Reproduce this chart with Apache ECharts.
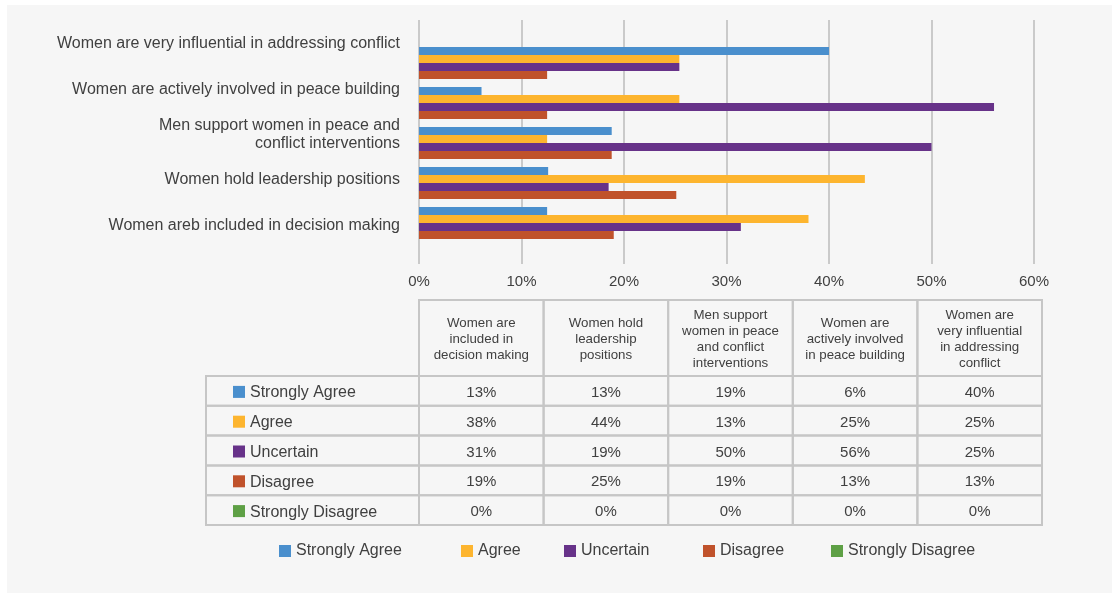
<!DOCTYPE html>
<html>
<head>
<meta charset="utf-8">
<script src="https://cdn.jsdelivr.net/npm/echarts@6/dist/echarts.min.js"></script>
<style>
  html, body { margin: 0; padding: 0; background: #ffffff; }
  #panel { position: absolute; left: 7px; top: 5px; width: 1105px; height: 588px; background: #f6f6f6; }
  #chart { position: absolute; left: 0; top: 0; width: 1112px; height: 593px; }
</style>
</head>
<body>
<div id="panel"></div>
<div id="chart"></div>
<script>
// Survey statements: bottom-to-top on the chart axis, left-to-right in the table
const categories = [
  'Women areb included in decision making',
  'Women hold leadership positions',
  'Men support women in peace and\nconflict interventions',
  'Women are actively involved in peace building',
  'Women are very influential in addressing conflict'
];
const tableHeaders = [
  'Women are\nincluded in\ndecision making',
  'Women hold\nleadership\npositions',
  'Men support\nwomen in peace\nand conflict\ninterventions',
  'Women are\nactively involved\nin peace building',
  'Women are\nvery influential\nin addressing\nconflict'
];
const seriesNames = ['Strongly Agree', 'Agree', 'Uncertain', 'Disagree', 'Strongly Disagree'];

// Share of responses (%) per statement, same order as categories
const stronglyAgree    = [12.5, 12.6, 18.8, 6.1, 40.0];
const agree            = [38.0, 43.5, 12.5, 25.4, 25.4];
const uncertain        = [31.4, 18.5, 50.0, 56.1, 25.4];
const disagree         = [19.0, 25.1, 18.8, 12.5, 12.5];
const stronglyDisagree = [0, 0, 0, 0, 0];

const xTicks = [0, 10, 20, 30, 40, 50, 60];

const seriesValues = [stronglyAgree, agree, uncertain, disagree, stronglyDisagree];
const colors = ['#4a8fcd', '#fdb52f', '#673289', '#c0522b', '#5ea045'];

const FONT = '"Liberation Sans", Arial, Helvetica, sans-serif';
const TEXT = '#404040';

// Layout of the plot
const plotLeft = 419, plotWidth = 615;
const xMin = xTicks[0], xMax = xTicks[xTicks.length - 1], xStep = xTicks[1] - xTicks[0];

// Layout of the data table
const tbl = {
  labelLeft: 206, left: 419, right: 1042,
  headTop: 300, headBottom: 376, rowH: 29.8,
  line: '#c6c6c6'
};
const legendLefts = [279, 461, 564, 703, 831];

function fmt(v) { return Math.round(v) + '%'; }

function buildTable() {
  const g = [];
  const colW = (tbl.right - tbl.left) / tableHeaders.length;
  const cell = (x, y, w, h) => ({
    type: 'rect', silent: true,
    shape: { x: x, y: y, width: w, height: h },
    style: { fill: 'none', stroke: tbl.line, lineWidth: 2 }
  });
  const text = (x, y, s, size, align, lh) => ({
    type: 'text', silent: true, x: x, y: y,
    style: {
      text: s, fontSize: size, fontFamily: FONT, fill: TEXT,
      align: align, verticalAlign: 'middle', lineHeight: lh || size + 2
    }
  });
  // header row
  tableHeaders.forEach((h, c) => {
    const x = tbl.left + c * colW;
    g.push(cell(x, tbl.headTop, colW, tbl.headBottom - tbl.headTop));
    g.push(text(x + colW / 2, (tbl.headTop + tbl.headBottom) / 2 + 1, h, 13.3, 'center', 16));
  });
  // body rows, one per response option
  seriesNames.forEach((name, r) => {
    const y = tbl.headBottom + r * tbl.rowH;
    g.push(cell(tbl.labelLeft, y, tbl.left - tbl.labelLeft, tbl.rowH));
    g.push({
      type: 'rect', silent: true,
      shape: { x: 233, y: y + tbl.rowH / 2 - 5, width: 12, height: 12 },
      style: { fill: colors[r] }
    });
    g.push(text(250, y + tbl.rowH / 2 + 2, name, 16, 'left'));
    seriesValues[r].forEach((v, c) => {
      const x = tbl.left + c * colW;
      g.push(cell(x, y, colW, tbl.rowH));
      g.push(text(x + colW / 2, y + tbl.rowH / 2 + 2, fmt(v), 15, 'center'));
    });
  });
  return g;
}

const chart = echarts.init(document.getElementById('chart'), null, { renderer: 'canvas' });

const hiddenAxis = {
  axisLine: { show: false }, axisTick: { show: false },
  axisLabel: { show: false }, splitLine: { show: false }
};

chart.setOption({
  animation: false,
  backgroundColor: 'transparent',
  textStyle: { fontFamily: FONT },
  grid: [
    // gridlines and percentage scale
    { left: plotLeft, width: plotWidth, top: 20, height: 244 },
    // bars
    { left: plotLeft, width: plotWidth, top: 47, height: 200 },
    // statement labels
    { left: plotLeft, width: plotWidth, top: 21, height: 227 }
  ],
  xAxis: [
    {
      gridIndex: 0, type: 'value', min: xMin, max: xMax, interval: xStep,
      axisLine: { show: false }, axisTick: { show: false },
      splitLine: { show: true, lineStyle: { color: '#cacaca', width: 2 } },
      axisLabel: {
        formatter: '{value}%', fontSize: 15, color: TEXT, fontFamily: FONT, margin: 10
      }
    },
    Object.assign({ gridIndex: 1, type: 'value', min: xMin, max: xMax }, hiddenAxis),
    Object.assign({ gridIndex: 2, type: 'value', min: xMin, max: xMax }, hiddenAxis)
  ],
  yAxis: [
    Object.assign({ gridIndex: 0, type: 'category', data: categories }, hiddenAxis),
    Object.assign({ gridIndex: 1, type: 'category', data: categories }, hiddenAxis),
    {
      gridIndex: 2, type: 'category', data: categories,
      axisLine: { show: false }, axisTick: { show: false }, splitLine: { show: false },
      axisLabel: {
        fontSize: 16, color: TEXT, fontFamily: FONT, margin: 19, lineHeight: 18.5
      }
    }
  ],
  legend: seriesNames.map((name, i) => ({
    data: [name],
    left: legendLefts[i], top: 543, padding: 0,
    icon: 'rect', itemWidth: 12, itemHeight: 12, itemGap: 5,
    selectedMode: false,
    textStyle: { fontSize: 16, color: TEXT, fontFamily: FONT }
  })),
  series: seriesNames.map((name, i) => ({
    name: name, type: 'bar',
    xAxisIndex: 1, yAxisIndex: 1,
    data: seriesValues[i],
    barGap: '0%', barCategoryGap: '0%',
    itemStyle: { color: colors[i] },
    emphasis: { disabled: true }
  })),
  graphic: buildTable()
});
</script>
</body>
</html>
